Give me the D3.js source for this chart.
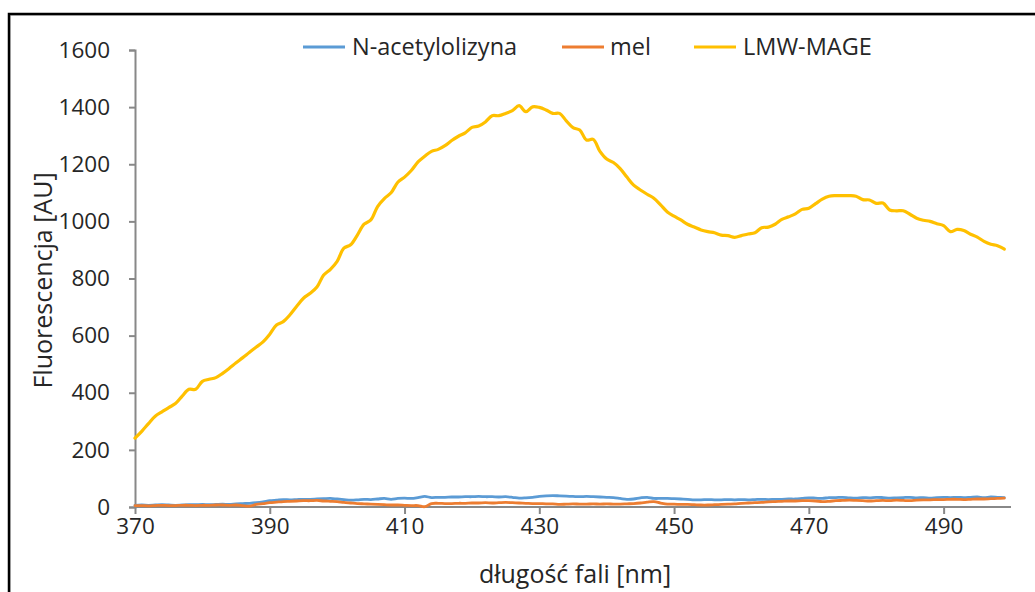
<!DOCTYPE html>
<html>
<head>
<meta charset="utf-8">
<script src="https://cdn.jsdelivr.net/npm/d3@7"></script>
<style>
  body { margin: 0; background: #fff; }
  text { font-family: "Open Sans", sans-serif; fill: #262626; }
</style>
</head>
<body>
<svg id="chart"></svg>
<script>
// wavelengths 370..499 nm, one reading per nm
var startNm = 370;
var seriesNames = ["N-acetylolizyna", "mel", "LMW-MAGE"];
var seriesColors = ["#5b9bd5", "#ed7d31", "#ffc000"];

var acetyl = [
  6, 7, 6, 7, 8, 7, 6, 7, 8, 8,
  9, 8, 9, 10, 9, 11, 12, 13, 15, 18,
  22, 24, 26, 25, 26, 27, 27, 28, 29, 30,
  28, 26, 24, 25, 27, 26, 28, 30, 27, 30,
  31, 30, 33, 37, 33, 34, 34, 35, 35, 36,
  36, 37, 36, 36, 35, 36, 34, 31, 32, 34,
  37, 39, 40, 39, 38, 37, 36, 37, 36, 35,
  34, 33, 30, 27, 28, 32, 34, 30, 30, 30,
  29, 28, 27, 25, 25, 26, 25, 25, 26, 25,
  26, 25, 26, 27, 26, 27, 27, 28, 28, 30,
  32, 31, 30, 33, 33, 34, 32, 31, 33, 32,
  34, 33, 31, 32, 33, 34, 32, 33, 31, 33,
  34, 33, 34, 33, 34, 35, 33, 35, 34, 33
];

var mel = [
  5, 5, 4, 5, 6, 5, 5, 6, 6, 5,
  6, 6, 7, 7, 6, 7, 5, 3, 9, 12,
  15, 17, 19, 20, 21, 22, 22, 23, 21, 20,
  19, 16, 14, 12, 11, 10, 9, 8, 7, 7,
  6, 5, 5, 1, 12, 13, 12, 12, 13, 13,
  14, 14, 15, 14, 15, 16, 15, 14, 13, 12,
  12, 11, 11, 9, 10, 11, 10, 10, 11, 10,
  11, 10, 10, 11, 12, 14, 17, 19, 14, 10,
  10, 9, 9, 8, 7, 7, 8, 9, 10, 11,
  13, 14, 15, 16, 18, 19, 20, 21, 21, 22,
  22, 21, 19, 20, 22, 23, 24, 23, 22, 21,
  22, 23, 22, 24, 23, 22, 24, 25, 25, 26,
  26, 27, 27, 26, 27, 28, 28, 29, 30, 31
];

var lmwMage = [
  241, 265, 292, 318, 333, 348, 362, 388, 412, 412,
  440, 447, 453, 468, 486, 505, 523, 542, 560, 578,
  605, 637, 649, 673, 703, 731, 748, 770, 812, 832,
  860, 906, 918, 952, 990, 1005, 1052, 1080, 1100, 1137,
  1155, 1178, 1208, 1228, 1245, 1252, 1265, 1283, 1298, 1310,
  1329, 1334, 1348, 1370, 1370, 1378, 1388, 1405, 1384, 1401,
  1399, 1390, 1378, 1378, 1352, 1328, 1320, 1285, 1287, 1245,
  1218, 1206, 1185, 1155, 1127, 1110, 1095, 1081, 1058, 1033,
  1018, 1005, 990, 980, 970, 964, 960, 952, 950, 944,
  950, 956, 960, 978, 980, 990, 1007, 1016, 1026, 1042,
  1046, 1062, 1078, 1088, 1090, 1090, 1090, 1088, 1076, 1075,
  1063, 1064, 1040, 1037, 1037, 1025, 1011, 1004, 1000, 992,
  985, 964, 972, 968, 955, 945, 930, 920, 915, 903
];

var xTicks = [370, 390, 410, 430, 450, 470, 490];
var yTicks = [0, 200, 400, 600, 800, 1000, 1200, 1400, 1600];

var W = 1035, H = 592;
var svg = d3.select("#chart").attr("width", W).attr("height", H);

// outer chart frame (only top/left edges fall inside the window)
svg.append("rect")
    .attr("x", 10).attr("y", 15)
    .attr("width", W + 20).attr("height", H + 20)
    .attr("fill", "none")
    .attr("stroke", "#d0d0d0")
    .attr("stroke-width", 2);
svg.append("rect")
    .attr("x", 9).attr("y", 14)
    .attr("width", W + 20).attr("height", H + 20)
    .attr("fill", "none")
    .attr("stroke", "#000")
    .attr("stroke-width", 2.5);

var x = d3.scaleLinear().domain([370, 500]).range([135, 1011]);
var y = d3.scaleLinear().domain([0, 1600]).range([507, 50]);

var axisColor = "#888";

var gx = svg.append("g")
    .attr("transform", "translate(0," + y(0) + ")")
    .call(d3.axisBottom(x).tickValues(xTicks).tickSize(7).tickPadding(4).tickFormat(d3.format("d")));
var gy = svg.append("g")
    .attr("transform", "translate(" + x(370) + ",0)")
    .call(d3.axisLeft(y).tickValues(yTicks).tickSize(6).tickPadding(19).tickFormat(d3.format("d")));

[gx, gy].forEach(function(g) {
    g.select(".domain").attr("stroke", axisColor).attr("stroke-width", 2);
    g.selectAll(".tick line").attr("stroke", axisColor).attr("stroke-width", 2);
    g.selectAll(".tick text")
        .style("font-family", "'Open Sans', sans-serif")
        .style("font-size", "22.5px")
        .attr("fill", "#262626");
});
gx.select(".domain").attr("d", "M" + x(370) + ",0H" + x(500));

svg.append("text")
    .attr("transform", "translate(52," + ((y(0) + y(1600)) / 2 + 2) + ") rotate(-90)")
    .attr("text-anchor", "middle")
    .style("font-size", "25px")
    .text("Fluorescencja [AU]");

svg.append("text")
    .attr("x", (x(370) + x(500)) / 2 + 2)
    .attr("y", 583)
    .attr("text-anchor", "middle")
    .style("font-size", "25px")
    .text("długość fali [nm]");

var allSeries = [acetyl, mel, lmwMage];
var line = d3.line()
    .x(function(d, i) { return x(startNm + i); })
    .y(function(d) { return y(d); })
    .curve(d3.curveCatmullRom.alpha(0.5));

allSeries.forEach(function(vals, k) {
    svg.append("path")
        .datum(vals)
        .attr("fill", "none")
        .attr("stroke", seriesColors[k])
        .attr("stroke-width", k === 2 ? 3.2 : 2.8)
        .attr("stroke-linejoin", "round")
        .attr("stroke-linecap", "round")
        .attr("d", line);
});

// legend
var legendX = [303, 562, 694];
var legendTextX = [352, 610, 743];
var legend = svg.append("g");
seriesNames.forEach(function(name, k) {
    legend.append("line")
        .attr("x1", legendX[k]).attr("x2", legendX[k] + 42)
        .attr("y1", 47).attr("y2", 47)
        .attr("stroke", seriesColors[k])
        .attr("stroke-width", 3.2);
    legend.append("text")
        .attr("x", legendTextX[k])
        .attr("y", 55)
        .style("font-size", "23.5px")
        .text(name);
});
</script>
</body>
</html>
